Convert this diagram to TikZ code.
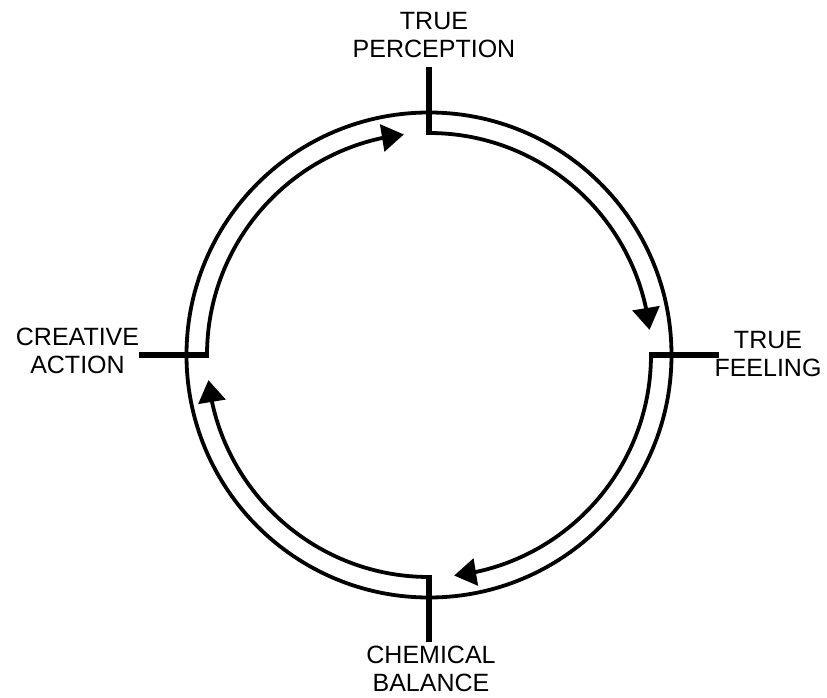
\documentclass[tikz,border=0pt]{standalone}
\usepackage{fontspec}
\setmainfont{Liberation Sans}
\usetikzlibrary{arrows.meta,bending}
\tikzset{
  ring/.style={line width=3.8pt},
  tickline/.style={line width=5.5pt},
  flow/.style={line width=3.8pt,-{Triangle[length=22pt,width=27pt]}},
  lbl/.style={align=center,inner sep=0pt,anchor=base,font=\fontsize{25}{28}\selectfont}
}
\begin{document}
\begin{tikzpicture}[x=1pt,y=1pt]
\useasboundingbox (-429,-343) rectangle (398,355);
\coordinate (c) at (0,0);
\draw[ring] (c) circle[radius=242.5];
% tick coordinates
\coordinate (topOut) at (90:288);   \coordinate (topIn) at (90:222);
\coordinate (rightOut) at (0:290);  \coordinate (rightIn) at (0:222);
\coordinate (botOut) at (270:287);  \coordinate (botIn) at (270:222);
\coordinate (leftOut) at (180:290); \coordinate (leftIn) at (180:222);
% labels (base = baseline of last line)
\node[lbl] (perc) at (5,297.7) {TRUE\\PERCEPTION};
\node[lbl] (feel) at (339,-21.7) {TRUE\\FEELING};
\node[lbl] (chem) at (2,-336.5) {CHEMICAL\\BALANCE};
\node[lbl] (act) at (-351.5,-18.3) {CREATIVE\\ACTION};
% flows
\draw[flow] (topIn) arc[start angle=90, end angle=6.5, radius=222];
\draw[flow] (rightIn) arc[start angle=0, end angle=-83.5, radius=222];
\draw[flow] (botIn) arc[start angle=-90, end angle=-173.5, radius=222];
\draw[flow] (leftIn) arc[start angle=180, end angle=96.5, radius=222];
% ticks
\draw[tickline] (topOut) -- ([yshift=-1.9pt]topIn);
\draw[tickline] (rightOut) -- ([xshift=-1.9pt]rightIn);
\draw[tickline] (botOut) -- ([yshift=1.9pt]botIn);
\draw[tickline] (leftOut) -- ([xshift=1.9pt]leftIn);
\end{tikzpicture}
\end{document}
